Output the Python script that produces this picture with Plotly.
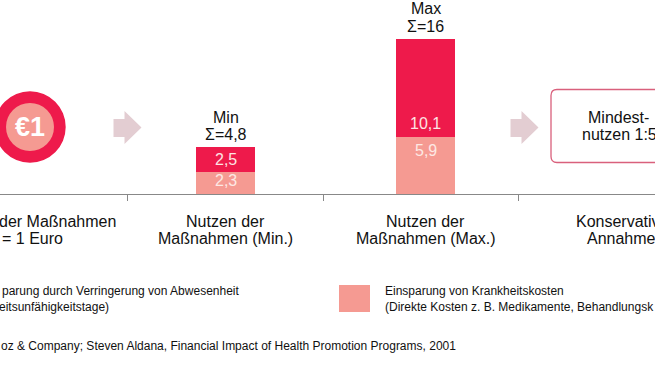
import plotly.graph_objects as go

categories = [["Nutzen der", "Maßnahmen (Min.)"], ["Nutzen der", "Maßnahmen (Max.)"]]
krankheitskosten = [2.3, 5.9]
abwesenheit = [2.5, 10.1]
krankheit_labels = ["2,3", "5,9"]
abwesenheit_labels = ["2,5", "10,1"]
header_labels = [["Min", "Σ=4,8"], ["Max", "Σ=16"]]

W, H = 655, 368
BASE = 194
FONT = "Liberation Sans"
RED = "#ee1a4b"
SALMON = "#f59a92"
ARROW = "#e3cdd2"
BAR_X = [225.5, 425.5]
TICKS = [127.5, 323, 518.5]


def px(x):
    return x / W


def py(y):
    return (BASE - y) / BASE


fig = go.Figure()
fig.add_bar(x=BAR_X, y=krankheitskosten, width=59, marker=dict(color=SALMON, line_width=0),
            name="Einsparung von Krankheitskosten")
fig.add_bar(x=BAR_X, y=abwesenheit, width=59, marker=dict(color=RED, line_width=0),
            name="Einsparung durch Verringerung von Abwesenheit")


def note(x, y, text, size=16, color="#111111", anchor="center", bold=False):
    fig.add_annotation(xref="paper", yref="paper", x=px(x), y=py(y), text=("<b>%s</b>" % text) if bold else text,
                       showarrow=False, xanchor=anchor, yanchor="middle", align="left",
                       font=dict(family=FONT, size=size, color=color), borderpad=0, borderwidth=0)


for x, t, ys in zip(BAR_X, header_labels, ((117.5, 134.5), (8.5, 26.5))):
    note(x, ys[0], t[0])
    note(x, ys[1], t[1])
note(BAR_X[0], 159, abwesenheit_labels[0], color="#fde3e3")
note(BAR_X[0], 180, krankheit_labels[0], color="#fde8e4")
note(BAR_X[1], 124, abwesenheit_labels[1], color="#fde3e3")
note(BAR_X[1], 150, krankheit_labels[1], color="#fde8e4")

for x, t in zip(BAR_X, categories):
    note(x, 221, t[0])
    note(x, 238.5, t[1])
note(116, 221, "der Maßnahmen", anchor="right")
note(63, 238.5, "= 1 Euro", anchor="right")
note(576, 221, "Konservativ", anchor="left")
note(587, 238.5, "Annahme", anchor="left")
note(588, 117, "Mindest-", anchor="left")
note(582, 134.5, "nutzen 1:5", anchor="left")
note(29.5, 127, "€1", size=27, color="#ffffff", bold=True)

note(239, 291, "parung durch Verringerung von Abwesenheit", size=12, anchor="right")
note(109, 306.5, "eitsunfähigkeitstage)", size=12, anchor="right")
note(385, 291, "Einsparung von Krankheitskosten", size=12, anchor="left")
note(385, 306.5, "(Direkte Kosten z. B. Medikamente, Behandlungsk", size=12, anchor="left")
note(456, 346, "oz &amp; Company; Steven Aldana, Financial Impact of Health Promotion Programs, 2001", size=12, anchor="right")

shapes = []
for cx, r, col in ((30, 35.7, RED), (30, 24, SALMON)):
    shapes.append(dict(type="circle", xref="paper", yref="paper", x0=px(cx - r), x1=px(cx + r),
                       y0=py(127 + r), y1=py(127 - r), fillcolor=col, line_width=0, layer="below"))
for x0 in (113.5, 510.5):
    a = [(x0, 119), (x0 + 11, 119), (x0 + 11, 111), (x0 + 28, 127.5), (x0 + 11, 144), (x0 + 11, 137), (x0, 137)]
    path = "M" + " L".join(f"{px(u):.5f},{py(v):.5f}" for u, v in a) + " Z"
    shapes.append(dict(type="path", xref="paper", yref="paper", path=path, fillcolor=ARROW, line_width=0))
# rounded box, running off the right edge
L, T, B, R, C = 551, 89.5, 162.5, 720, 6
p = [f"M{px(R):.5f},{py(T):.5f}", f"L{px(L + C):.5f},{py(T):.5f}",
     f"Q{px(L):.5f},{py(T):.5f} {px(L):.5f},{py(T + C):.5f}",
     f"L{px(L):.5f},{py(B - C):.5f}",
     f"Q{px(L):.5f},{py(B):.5f} {px(L + C):.5f},{py(B):.5f}",
     f"L{px(R):.5f},{py(B):.5f}"]
shapes.append(dict(type="path", xref="paper", yref="paper", path=" ".join(p), line=dict(color="#d9607c", width=1.3)))
# legend swatch
shapes.append(dict(type="rect", xref="paper", yref="paper", x0=px(339), x1=px(370), y0=py(312), y1=py(285),
                   fillcolor=SALMON, line_width=0))

fig.update_layout(
    width=W, height=H, barmode="stack", showlegend=False, paper_bgcolor="white", plot_bgcolor="white",
    margin=dict(l=0, r=0, t=0, b=H - BASE), shapes=shapes,
    xaxis=dict(range=[0, W], tickvals=TICKS, ticktext=["", "", ""], ticks="outside", ticklen=6, tickwidth=1,
               tickcolor="#888888", showline=True, linecolor="#888888", linewidth=1, showgrid=False, zeroline=False),
    yaxis=dict(range=[0, BASE / 9.69], visible=False, showgrid=False, zeroline=False),
)
fig.write_html("out.html", config={"displayModeBar": False},
               post_script="document.body.style.margin='0';document.body.style.overflow='hidden';")
